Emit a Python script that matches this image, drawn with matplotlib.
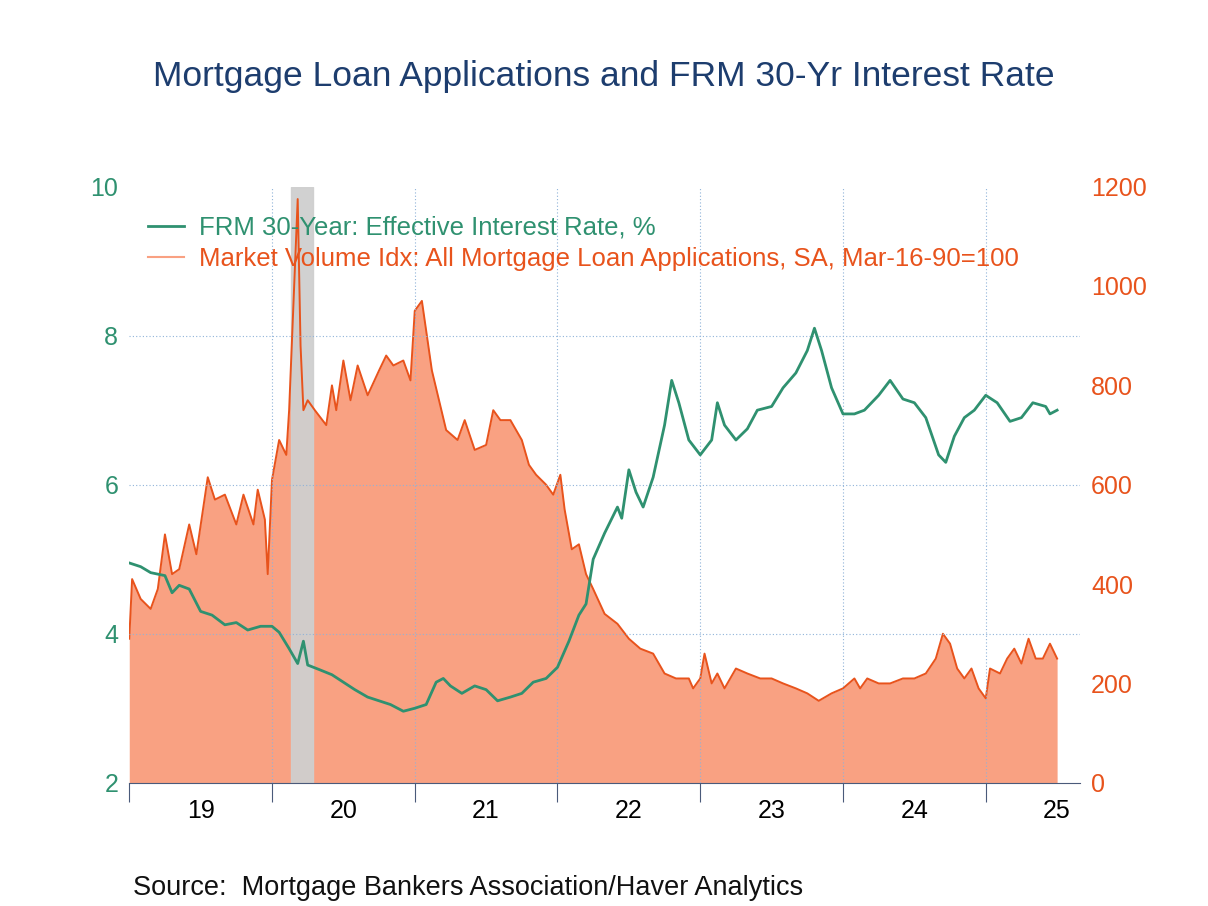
import matplotlib
matplotlib.use("Agg")
import matplotlib.pyplot as plt
plt.rcParams["font.family"] = "Liberation Sans"

rate_t = [2019.0,2019.08,2019.15,2019.25,2019.3,2019.35,2019.42,2019.5,2019.58,2019.67,2019.75,2019.83,2019.92,2020.0,2020.05,2020.12,2020.18,2020.22,2020.25,2020.33,2020.42,2020.5,2020.58,2020.67,2020.75,2020.83,2020.92,2021.0,2021.08,2021.15,2021.2,2021.25,2021.33,2021.42,2021.5,2021.58,2021.67,2021.75,2021.83,2021.92,2022.0,2022.08,2022.15,2022.2,2022.25,2022.33,2022.42,2022.45,2022.5,2022.55,2022.6,2022.67,2022.75,2022.8,2022.85,2022.92,2023.0,2023.08,2023.12,2023.17,2023.25,2023.33,2023.4,2023.5,2023.58,2023.67,2023.75,2023.8,2023.85,2023.92,2024.0,2024.08,2024.15,2024.25,2024.33,2024.42,2024.5,2024.58,2024.67,2024.72,2024.78,2024.85,2024.92,2025.0,2025.08,2025.17,2025.25,2025.33,2025.42,2025.45,2025.5]
rate_v = [4.95,4.90,4.82,4.78,4.55,4.65,4.60,4.30,4.25,4.12,4.15,4.05,4.10,4.10,4.02,3.80,3.60,3.90,3.58,3.52,3.45,3.35,3.25,3.15,3.10,3.05,2.96,3.00,3.05,3.35,3.40,3.30,3.20,3.30,3.25,3.10,3.15,3.20,3.35,3.40,3.55,3.90,4.25,4.40,5.00,5.35,5.70,5.55,6.20,5.90,5.70,6.10,6.80,7.40,7.10,6.60,6.40,6.60,7.10,6.80,6.60,6.75,7.00,7.05,7.30,7.50,7.80,8.10,7.80,7.30,6.95,6.95,7.00,7.20,7.40,7.15,7.10,6.90,6.40,6.30,6.65,6.90,7.00,7.20,7.10,6.85,6.90,7.10,7.05,6.95,7.00]

vol_t = [2019.0,2019.02,2019.08,2019.15,2019.2,2019.25,2019.3,2019.35,2019.42,2019.47,2019.55,2019.6,2019.67,2019.75,2019.8,2019.87,2019.9,2019.95,2019.97,2020.0,2020.05,2020.1,2020.12,2020.18,2020.2,2020.22,2020.25,2020.3,2020.38,2020.42,2020.45,2020.5,2020.55,2020.6,2020.67,2020.75,2020.8,2020.85,2020.92,2020.97,2021.0,2021.05,2021.08,2021.12,2021.17,2021.22,2021.3,2021.35,2021.42,2021.5,2021.55,2021.6,2021.67,2021.75,2021.8,2021.85,2021.92,2021.97,2022.02,2022.05,2022.1,2022.15,2022.2,2022.25,2022.33,2022.42,2022.5,2022.58,2022.67,2022.75,2022.83,2022.92,2022.95,2023.0,2023.03,2023.08,2023.12,2023.17,2023.25,2023.33,2023.42,2023.5,2023.58,2023.67,2023.75,2023.83,2023.92,2024.0,2024.08,2024.12,2024.17,2024.25,2024.33,2024.42,2024.5,2024.58,2024.65,2024.7,2024.75,2024.8,2024.85,2024.9,2024.95,2025.0,2025.03,2025.1,2025.15,2025.2,2025.25,2025.3,2025.35,2025.4,2025.45,2025.5]
vol_v = [290,410,370,350,390,500,420,430,520,460,615,570,580,520,580,520,590,530,420,610,690,660,750,1175,880,750,770,750,720,800,750,850,770,840,780,830,860,840,850,810,950,970,910,830,770,710,690,730,670,680,750,730,730,690,640,620,600,580,620,550,470,480,420,390,340,320,290,270,260,220,210,210,190,210,260,200,220,190,230,220,210,210,200,190,180,165,180,190,210,190,210,200,200,210,210,220,250,300,280,230,210,230,190,170,230,220,250,270,240,290,250,250,280,250]

years = [2019,2020,2021,2022,2023,2024,2025]
year_labels = ["19","20","21","22","23","24","25"]

green = "#2f9170"
orange = "#e8531c"
fill = "#f9a182"

fig = plt.figure(figsize=(12.08, 9.06), dpi=100)
ax2 = fig.add_axes([0.107, 0.136, 0.787, 0.658])
ax1 = ax2.twinx()
ax1.set_zorder(ax2.get_zorder() + 1)
ax1.patch.set_visible(False)

ax2.fill_between(vol_t, 0, vol_v, color=fill, lw=0, zorder=1)
ax2.axvspan(2020.13, 2020.29, color="#cfcfcf", alpha=0.95, zorder=1.5)
ax2.plot(vol_t, vol_v, color=orange, lw=1.4, zorder=2)
ax1.plot(rate_t, rate_v, color=green, lw=2.0)

ax2.set_xlim(2019.0, 2025.66)
ax2.set_ylim(0, 1200)
ax1.set_ylim(2, 10)
ax2.yaxis.tick_right()
ax1.yaxis.tick_left()
ax2.set_yticks([0, 200, 400, 600, 800, 1000, 1200])
ax1.set_yticks([2, 4, 6, 8, 10])
ax2.tick_params(axis="y", colors=orange, labelsize=18, length=0, pad=8)
ax1.tick_params(axis="y", colors=green, labelsize=18, length=0, pad=8)

ax2.set_xticks(years)
ax2.set_xticklabels([])
ax2.set_xticks([y + 0.5 for y in years], minor=True)
ax2.set_xticklabels(year_labels, minor=True, fontsize=18)
ax2.tick_params(axis="x", which="major", length=14, direction="out", color="#4a5a7a")
ax2.tick_params(axis="x", which="minor", length=0, pad=12)

for a in (ax1, ax2):
    for s in ("top", "left", "right"):
        a.spines[s].set_visible(False)
ax1.spines["bottom"].set_visible(False)
ax2.spines["bottom"].set_color("#4a5a7a")

for x in years[1:]:
    ax1.axvline(x, color="#8fb3d9", lw=0.8, ls=(0, (1, 2)), zorder=0)
for y in [4, 6, 8]:
    ax1.axhline(y, color="#8fb3d9", lw=0.8, ls=(0, (1, 2)), zorder=0)

from matplotlib.lines import Line2D
h = [Line2D([], [], color=green, lw=2), Line2D([], [], color=fill, lw=1.5)]
leg = ax1.legend(h, ["FRM 30-Year: Effective Interest Rate, %",
                     "Market Volume Idx: All Mortgage Loan Applications, SA, Mar-16-90=100"],
                 loc="upper left", bbox_to_anchor=(-0.005, 0.99), frameon=False, fontsize=18.5,
                 handlelength=1.4, handletextpad=0.6, labelspacing=0.3)
leg.get_texts()[0].set_color(green)
leg.get_texts()[1].set_color(orange)

fig.text(0.5, 0.905, "Mortgage Loan Applications and FRM 30-Yr Interest Rate",
         ha="center", fontsize=25.5, color="#1d3d6e")
fig.text(0.11, 0.012, "Source:  Mortgage Bankers Association/Haver Analytics",
         fontsize=19.5, color="#111111")

fig.savefig("out.png", dpi=100)
